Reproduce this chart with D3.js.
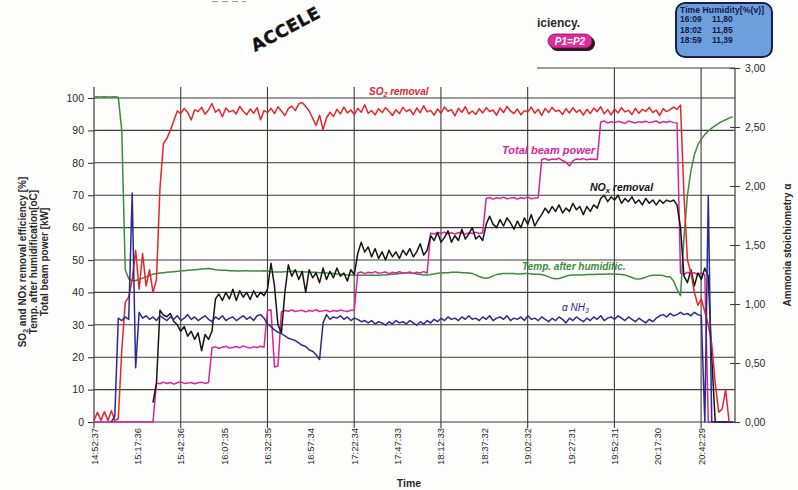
<!DOCTYPE html>
<html>
<head>
<meta charset="utf-8">
<script src="https://cdn.jsdelivr.net/npm/d3@7"></script>
<style>
  html, body { margin: 0; padding: 0; background: #ffffff; }
  svg { display: block; font-family: "Liberation Sans", Arial, sans-serif; }
</style>
</head>
<body>
<svg id="chart" width="798" height="490"></svg>
<script>
// ---- Time axis ----------------------------------------------------------
const timeLabels = ["14:52:37", "15:17:36", "15:42:36", "16:07:35", "16:32:35",
  "16:57:34", "17:22:34", "17:47:33", "18:12:33", "18:37:32", "19:02:32",
  "19:27:31", "19:52:31", "20:17:30", "20:42:29"];
const axisEndTime = "21:02:01";
const sampleStepMin = 2;          // logger sampling interval, minutes

// ---- Left-axis series (%, oC, kW), one value per sample ----------------
const so2Removal = [
  0.5, 3.0, 0.5, 3.2, 0.5, 3.5, 0.5, 1.0, 22, 37,
  38.5, 44, 53, 41, 52, 42, 47, 40, 44, 72,
  86, 87.5, 90, 93, 96, 95.2, 96.8, 95.5, 93.2, 96.4,
  95.8, 97.1, 95.0, 96.3, 98.3, 95.6, 96.5, 94.2, 96.9, 95.7,
  96.2, 95.1, 97.4, 95.9, 94.8, 96.6, 95.3, 97.0, 93.3, 96.1,
  95.5, 96.8, 95.2, 97.3, 96.0, 94.6, 96.7, 97.5, 96.1, 98.2,
  98.6, 97.4, 96.0, 93.8, 91.5, 94.7, 90.2, 93.9, 95.6, 94.3,
  96.5, 95.1, 97.2, 95.4, 96.3, 94.9, 96.8, 95.6, 97.9, 95.3,
  96.1, 94.8, 96.7, 95.5, 97.0, 95.9, 94.6, 96.4, 95.2, 97.1,
  95.8, 96.5, 94.9, 96.9, 95.4, 97.6, 95.7, 96.2, 94.7, 96.6,
  95.3, 97.2, 95.9, 96.4, 94.5, 96.8, 95.6, 97.3, 95.1, 96.0,
  94.9, 96.7, 95.4, 97.0, 95.8, 96.3, 94.7, 96.9, 95.5, 97.4,
  96.0, 95.2, 96.6, 94.8, 96.1, 95.7, 97.2, 95.3, 96.5, 94.6,
  96.8, 95.5, 97.1, 95.9, 96.2, 94.9, 96.7, 95.4, 97.0, 95.6,
  96.3, 94.7, 96.5, 95.2, 96.9, 95.8, 97.3, 95.1, 96.4, 94.8,
  96.6, 95.4, 97.0, 95.7, 96.2, 94.9, 96.8, 95.3, 96.5, 95.9,
  97.1, 95.5, 96.3, 94.6, 96.7, 95.8, 96.4, 97.2, 96.5, 97.8,
  70, 50, 46, 40, 36, 38, 34, 30, 24, 12,
  3, 4, 10, 0, 0
];

const beamPower = [
  0, 0, 0, 0, 0, 0, 0, 0, 0, 0,
  0, 0, 0, 0, 0, 0, 0, 0, 12.0, 11.8,
  12.3, 11.9, 12.2, 11.7, 12.1, 12.4, 11.9, 12.0, 12.2, 11.8,
  12.1, 12.3, 11.9, 12.2, 22.9, 23.2, 22.7, 23.1, 23.4, 22.8,
  23.0, 23.3, 22.9, 23.5, 23.1, 22.8, 23.2, 23.0, 23.4, 23.1,
  34.5, 34.6, 17.0, 17.3, 34.0, 34.4, 34.2, 34.6, 34.1, 34.3,
  34.5, 34.0, 34.4, 34.2, 34.7, 34.1, 34.3, 34.5, 34.0, 34.4,
  34.2, 34.6, 34.3, 34.1, 34.5, 34.6, 46.0, 46.3, 45.8, 46.2,
  46.0, 46.4, 45.9, 46.1, 46.3, 45.8, 46.2, 46.0, 46.4, 45.9,
  46.1, 46.3, 45.8, 46.2, 46.0, 46.4, 46.0, 58.3, 58.0, 58.5,
  58.2, 58.6, 58.1, 58.4, 58.0, 58.5, 58.3, 57.9, 58.4, 58.2,
  58.6, 58.2, 58.4, 69.0, 69.3, 68.8, 69.2, 69.0, 69.4, 68.9,
  69.1, 69.3, 68.8, 69.2, 69.0, 69.4, 68.9, 69.1, 69.2, 81.0,
  81.3, 80.8, 81.2, 81.0, 81.4, 80.7, 80.2, 79.0, 80.6, 81.2,
  81.0, 81.3, 80.9, 81.2, 81.1, 81.0, 92.6, 92.9, 92.3, 92.7,
  92.4, 92.8, 92.5, 92.2, 92.9, 92.6, 92.3, 92.7, 92.5, 92.8,
  92.4, 92.6, 92.9, 92.3, 92.7, 92.5, 92.8, 92.4, 92.3, 46.0,
  45.6, 46.2, 45.8, 46.1, 45.5, 46.0, 45.5, 0, 0, 0,
  0, 0, 0, 0, 0
];

const noxRemoval = [
  null, null, null, null, null, null, null, null, null, null,
  null, null, null, null, null, null, null, 6, 12, 34.5,
  33, 32.5, 33.5, 31, 30, 28, 29.5, 26.5, 28, 25.5,
  27.5, 22, 27, 25.5, 28, 38, 39.5, 37.5, 40, 38,
  41, 37.5, 40.5, 38.5, 40, 37.8, 40.5, 38.5, 40, 39,
  41, 49, 42, 30, 27.5, 40, 48.5, 45, 47, 44,
  46.5, 40, 47, 44.5, 46, 43, 47.5, 44, 46.5, 44.5,
  47.5, 45, 46, 43.5, 47, 45.5, 52, 55.5, 52.5, 54,
  51, 53.5, 50.5, 52.5, 50, 53, 51, 52.5, 50.5, 53,
  51.5, 53.5, 51, 52.5, 55, 51.5, 53, 57.5, 56, 58.5,
  55.5, 57, 59, 55.5, 57.5, 56, 59.5, 56.5, 58, 60,
  56.5, 57.5, 56, 61, 63.5, 61, 60, 62.5, 60.5, 63,
  61.5, 59.5, 62, 60, 63, 61, 64, 60.5, 62.5, 64,
  66, 64.5, 66.5, 65, 67, 64.5, 66, 65, 67.5, 65.5,
  66.5, 64, 66.5, 65, 67, 66, 69, 70, 68, 69.5,
  68.5, 70, 67.5, 69, 68, 69.5, 67.5, 68.5, 67, 69,
  67.5, 68.5, 67, 68.5, 67.5, 68.5, 68, 68.5, 67, 60,
  45, 43, 47, 42, 46, 44, 47.5, 45, 20, 0,
  0, 0, 0, 0, 0
];

const tempAfterHumid = [
  100.3, 100.4, 100.3, 100.4, 100.3, 100.3, 100.4, 100.2, 90, 47,
  44.2, 43.6, 43.7, 44.0, 44.4, 44.8, 45.2, 45.6, 45.8, 46.0,
  46.1, 46.2, 46.3, 46.4, 46.5, 46.6, 46.7, 46.8, 46.9, 47.0,
  47.1, 47.2, 47.3, 47.4, 47.2, 47.0, 46.9, 46.8, 46.8, 46.7,
  46.7, 46.6, 46.6, 46.7, 46.7, 46.6, 46.6, 46.6, 46.6, 46.7,
  46.6, 46.4, 46.3, 46.3, 46.3, 46.4, 46.4, 46.5, 46.5, 46.4,
  46.4, 46.3, 46.3, 46.2, 46.2, 46.1, 46.1, 46.0, 45.9, 45.8,
  45.7, 45.6, 45.5, 45.4, 45.4, 45.3, 45.3, 45.3, 45.3, 45.3,
  45.3, 45.3, 45.3, 45.4, 45.4, 45.5, 45.6, 45.7, 45.8, 45.9,
  46.0, 46.0, 45.9, 45.7, 45.5, 45.4, 45.4, 45.5, 45.7, 45.9,
  46.0, 46.1, 46.1, 46.2, 46.2, 46.2, 46.1, 46.1, 46.0, 45.8,
  45.4, 44.9, 44.5, 44.4, 44.6, 45.1, 45.5, 45.7, 45.8, 45.8,
  45.8, 45.8, 45.7, 45.7, 45.8, 45.8, 45.7, 45.6, 45.6, 45.5,
  45.2, 44.8, 44.4, 44.2, 44.3, 44.6, 45.0, 45.3, 45.4, 45.4,
  45.4, 45.4, 45.5, 45.5, 45.5, 45.6, 45.6, 45.6, 45.7, 45.7,
  45.6, 45.6, 45.5, 45.4, 45.0, 44.6, 44.2, 44.1, 44.3, 44.7,
  45.1, 45.3, 45.3, 45.3, 45.2, 44.8, 44.8, 43.5, 41.0, 39.0,
  57, 70, 77.5, 82.5, 85.5, 87.3, 88.7, 89.8, 90.7, 91.5,
  92.2, 92.8, 93.3, 93.8, 94.2
];

// ---- Right-axis series (ammonia stoichiometry) --------------------------
const alphaNH3 = [
  null, null, null, null, null, 0, 0.05, 0.88, 0.86, 0.89,
  0.87, 1.94, 0.46, 0.93, 0.88, 0.90, 0.87, 0.89, 0.86, 0.90,
  0.88, 0.86, 0.89, 0.87, 0.90, 0.86, 0.88, 0.91, 0.87, 0.89,
  0.86, 0.88, 0.90, 0.87, 0.85, 0.89, 0.87, 0.90, 0.86, 0.88,
  0.89, 0.86, 0.88, 0.90, 0.87, 0.89, 0.86, 0.90, 0.91, 0.88,
  0.83, 0.81, 0.78, 0.76, 0.75, 0.73, 0.71, 0.70, 0.69, 0.67,
  0.65, 0.64, 0.61, 0.60, 0.57, 0.53, 0.84, 0.91, 0.87, 0.89,
  0.88, 0.90, 0.87, 0.89, 0.86, 0.88, 0.87, 0.85, 0.86, 0.84,
  0.86, 0.83, 0.85, 0.84, 0.82, 0.85, 0.83, 0.86, 0.84, 0.85,
  0.83, 0.86, 0.84, 0.82, 0.85, 0.83, 0.86, 0.84, 0.87, 0.85,
  0.88, 0.86, 0.89, 0.87, 0.88, 0.86, 0.89, 0.87, 0.90, 0.87,
  0.88, 0.86, 0.89, 0.87, 0.90, 0.86, 0.88, 0.89, 0.87, 0.90,
  0.86, 0.88, 0.87, 0.89, 0.86, 0.90, 0.87, 0.88, 0.86, 0.89,
  0.87, 0.85, 0.88, 0.86, 0.89, 0.87, 0.84, 0.88, 0.86, 0.89,
  0.87, 0.85, 0.88, 0.86, 0.89, 0.87, 0.90, 0.86, 0.88, 0.89,
  0.87, 0.90, 0.88, 0.86, 0.89, 0.87, 0.85, 0.88, 0.86, 0.84,
  0.87, 0.85, 0.88, 0.90, 0.91, 0.89, 0.92, 0.90, 0.91, 0.93,
  0.91, 0.92, 0.90, 0.93, 0.91, 0.90, 0, 1.92, 0, 0,
  0, 0, 0, 0, 0
];

// ---- Axis tick values ----------------------------------------------------
const leftTicks = [0, 10, 20, 30, 40, 50, 60, 70, 80, 90, 100];
const rightTicks = [0, 0.5, 1.0, 1.5, 2.0, 2.5, 3.0];

// ---- Humidity inset table ------------------------------------------------
const humidityTimes = ["16:09", "18:02", "18:59"];
const humidityValues = ["11,80", "11,85", "11,39"];

// ---- Colours -----------------------------------------------------------
const C = {
  so2: "#e3262b", power: "#d8249a", nox: "#151515",
  temp: "#3d8c3d", nh3: "#2b2a90", grid: "#3d3d3d", text: "#2a2a2a"
};

// ---- Scales --------------------------------------------------------------
const toMin = s => { const [h, m, sec] = s.split(":").map(Number); return h * 60 + m + sec / 60; };
const t0 = toMin(timeLabels[0]);
const tickMinutes = timeLabels.map(s => toMin(s) - t0);
const tEnd = toMin(axisEndTime) - t0;

const P = { left: 94, right: 735, top: 68, bottom: 422 };
const x = d3.scaleLinear().domain([0, tEnd]).range([P.left, P.right]);
const yL = d3.scaleLinear().domain([0, 100]).range([P.bottom, 98]);
const yR = d3.scaleLinear().domain([0, 3]).range([P.bottom, P.top]);

const svg = d3.select("#chart");
svg.append("rect").attr("width", 798).attr("height", 490).attr("fill", "#fdfdfc");

// ---- Grid --------------------------------------------------------------
const grid = svg.append("g").attr("stroke", C.grid).attr("stroke-width", 1.1);
grid.selectAll("line.h").data(leftTicks.filter(v => v > 0)).join("line")
  .attr("x1", P.left).attr("x2", P.right)
  .attr("y1", d => yL(d)).attr("y2", d => yL(d));
const majorTicks = tickMinutes.filter((d, i) => i % 2 === 0);
grid.selectAll("line.v").data(majorTicks.filter(d => d > 0)).join("line")
  .attr("x1", d => x(d)).attr("x2", d => x(d))
  .attr("y1", P.top).attr("y2", P.bottom);

// frame
const frame = svg.append("g").attr("stroke", C.grid).attr("stroke-width", 1.2).attr("fill", "none");
frame.append("line").attr("x1", P.left).attr("x2", P.right).attr("y1", P.top).attr("y2", P.top);
frame.append("line").attr("x1", P.left).attr("x2", P.left).attr("y1", P.top).attr("y2", P.bottom);
frame.append("line").attr("x1", P.right).attr("x2", P.right).attr("y1", P.top).attr("y2", P.bottom);
frame.append("line").attr("x1", P.left).attr("x2", P.right).attr("y1", P.bottom).attr("y2", P.bottom);

// ---- Axes --------------------------------------------------------------
const axL = svg.append("g").attr("transform", `translate(${P.left},0)`)
  .call(d3.axisLeft(yL).tickValues(leftTicks).tickSize(6).tickPadding(4).tickFormat(d3.format("d")));
axL.select(".domain").remove();
axL.selectAll("line").attr("stroke", C.grid).attr("stroke-width", 1.1);
axL.selectAll("text").attr("font-size", 10.5).attr("fill", C.text)
  .attr("font-family", "Liberation Sans, Arial, sans-serif");

const axR = svg.append("g").attr("transform", `translate(${P.right},0)`)
  .call(d3.axisRight(yR).tickValues(rightTicks).tickSize(5).tickPadding(5)
    .tickFormat(d => d3.format(".2f")(d).replace(".", ",")));
axR.select(".domain").remove();
axR.selectAll("line").attr("x1", -5).attr("stroke", C.grid).attr("stroke-width", 1.1);
axR.selectAll("text").attr("font-size", 10.5).attr("fill", C.text)
  .attr("font-family", "Liberation Sans, Arial, sans-serif");

// bottom ticks (only on the 50-minute marks) and rotated time labels
svg.append("g").selectAll("line").data(majorTicks).join("line")
  .attr("x1", d => x(d)).attr("x2", d => x(d))
  .attr("y1", P.bottom).attr("y2", P.bottom + 6)
  .attr("stroke", C.grid).attr("stroke-width", 1.1);
svg.append("g").selectAll("text").data(tickMinutes).join("text")
  .attr("transform", d => `translate(${x(d) + 3.5},${P.bottom + 6}) rotate(-90)`)
  .attr("text-anchor", "end")
  .attr("font-size", 9.5).attr("fill", C.text)
  .text((d, i) => timeLabels[i]);

svg.append("text").attr("x", 409).attr("y", 487).attr("text-anchor", "middle")
  .attr("font-size", 10.5).attr("font-weight", "bold").attr("fill", C.text).text("Time");

// left axis titles
const lt1 = svg.append("text").attr("transform", "translate(26,262) rotate(-90)")
  .attr("text-anchor", "middle").attr("font-size", 10).attr("font-weight", "bold").attr("fill", C.text);
lt1.append("tspan").text("SO");
lt1.append("tspan").text("2").attr("font-size", 7).attr("dy", 2);
lt1.append("tspan").text(" and NOx removal efficiency [%]").attr("dy", -2);
svg.append("text").attr("transform", "translate(37,262) rotate(-90)")
  .attr("text-anchor", "middle").attr("font-size", 10).attr("font-weight", "bold").attr("fill", C.text)
  .text("Temp. after humidification[oC]");
svg.append("text").attr("transform", "translate(48,262) rotate(-90)")
  .attr("text-anchor", "middle").attr("font-size", 10).attr("font-weight", "bold").attr("fill", C.text)
  .text("Total beam power [kW]");

// right axis title
svg.append("text").attr("transform", "translate(791,245) rotate(-90)")
  .attr("text-anchor", "middle").attr("font-size", 10).attr("font-weight", "bold").attr("fill", C.text)
  .text("Ammonia stoichiometry \u03b1");

// ---- Series --------------------------------------------------------------
const tAt = i => i * sampleStepMin;
function drawSeries(values, yScale, color) {
  const line = d3.line()
    .defined(d => d != null)
    .x((d, i) => x(tAt(i)))
    .y(d => yScale(d));
  svg.append("path").datum(values)
    .attr("fill", "none").attr("stroke", color)
    .attr("stroke-width", 1.5).attr("stroke-linejoin", "round")
    .attr("d", line);
}
drawSeries(tempAfterHumid, yL, C.temp);
drawSeries(beamPower, yL, C.power);
drawSeries(noxRemoval, yL, C.nox);
drawSeries(so2Removal, yL, C.so2);
drawSeries(alphaNH3, yR, C.nh3);

// ---- In-plot series labels ------------------------------------------------
const lab = (xp, yp, color, size) => svg.append("text").attr("x", xp).attr("y", yp)
  .attr("fill", color).attr("font-size", size).attr("font-weight", "bold").attr("font-style", "italic");

const soLab = lab(369, 95, C.so2, 10);
soLab.append("tspan").text("SO");
soLab.append("tspan").text("2").attr("font-size", 7).attr("dy", 2);
soLab.append("tspan").text(" removal").attr("dy", -2);

lab(502, 154, C.power, 11).text("Total beam power");

const noLab = lab(590, 191, C.nox, 10.5);
noLab.append("tspan").text("NO");
noLab.append("tspan").text("x").attr("font-size", 7.5).attr("dy", 2);
noLab.append("tspan").text(" removal").attr("dy", -2);

lab(522, 270, C.temp, 10).text("Temp. after humidific.");

const nhLab = lab(562, 311, C.nh3, 10).attr("font-weight", "normal");
nhLab.append("tspan").text("\u03b1 NH");
nhLab.append("tspan").text("3").attr("font-size", 7).attr("dy", 2);

// ---- Header strip ----------------------------------------------------------
svg.append("rect").attr("x", 0).attr("y", 0).attr("width", 537).attr("height", 87).attr("fill", "#fdfdfc");

svg.append("line").attr("x1", 212).attr("x2", 246).attr("y1", 1.5).attr("y2", 1.5)
  .attr("stroke", "#9a9a9a").attr("stroke-width", 1.2).attr("stroke-dasharray", "6 4");

svg.append("text").attr("transform", "translate(255,52) rotate(-28)")
  .attr("font-family", "DejaVu Sans, sans-serif").attr("font-size", 17).attr("font-weight", "bold")
  .attr("letter-spacing", 0.6)
  .attr("fill", "#111").attr("stroke", "#111").attr("stroke-width", 0.4)
  .text("ACCELE");

svg.append("text").attr("x", 537).attr("y", 27).attr("font-size", 12).attr("font-weight", "bold")
  .attr("fill", C.text).text("iciency.");

// P1=P2 badge
svg.append("rect").attr("x", 550).attr("y", 36).attr("width", 45).attr("height", 15).attr("rx", 7.5)
  .attr("fill", "#2a1a22");
svg.append("rect").attr("x", 548).attr("y", 34).attr("width", 44).attr("height", 14).attr("rx", 7)
  .attr("fill", "#df2c9c").attr("stroke", "#7a1050").attr("stroke-width", 0.8);
svg.append("text").attr("x", 570).attr("y", 45).attr("text-anchor", "middle")
  .attr("font-size", 10).attr("font-style", "italic").attr("font-weight", "bold").attr("fill", "#ffffff")
  .text("P1=P2");

// humidity inset
svg.append("rect").attr("x", 676).attr("y", 3).attr("width", 96).attr("height", 54).attr("rx", 9)
  .attr("fill", "#6e9edb").attr("stroke", "#16224d").attr("stroke-width", 2);
const inset = svg.append("g").attr("fill", "#0f1a4a").attr("font-size", 8.5).attr("font-weight", "bold");
inset.append("text").attr("x", 680).attr("y", 12.5).attr("textLength", 84).text("Time  Humidity[%(v)]");
inset.selectAll("text.t").data(humidityTimes).join("text")
  .attr("x", 680).attr("y", (d, i) => 22 + i * 10.5).text(d => d);
inset.selectAll("text.v").data(humidityValues).join("text")
  .attr("x", 712).attr("y", (d, i) => 22 + i * 10.5).text(d => d);
</script>
</body>
</html>
